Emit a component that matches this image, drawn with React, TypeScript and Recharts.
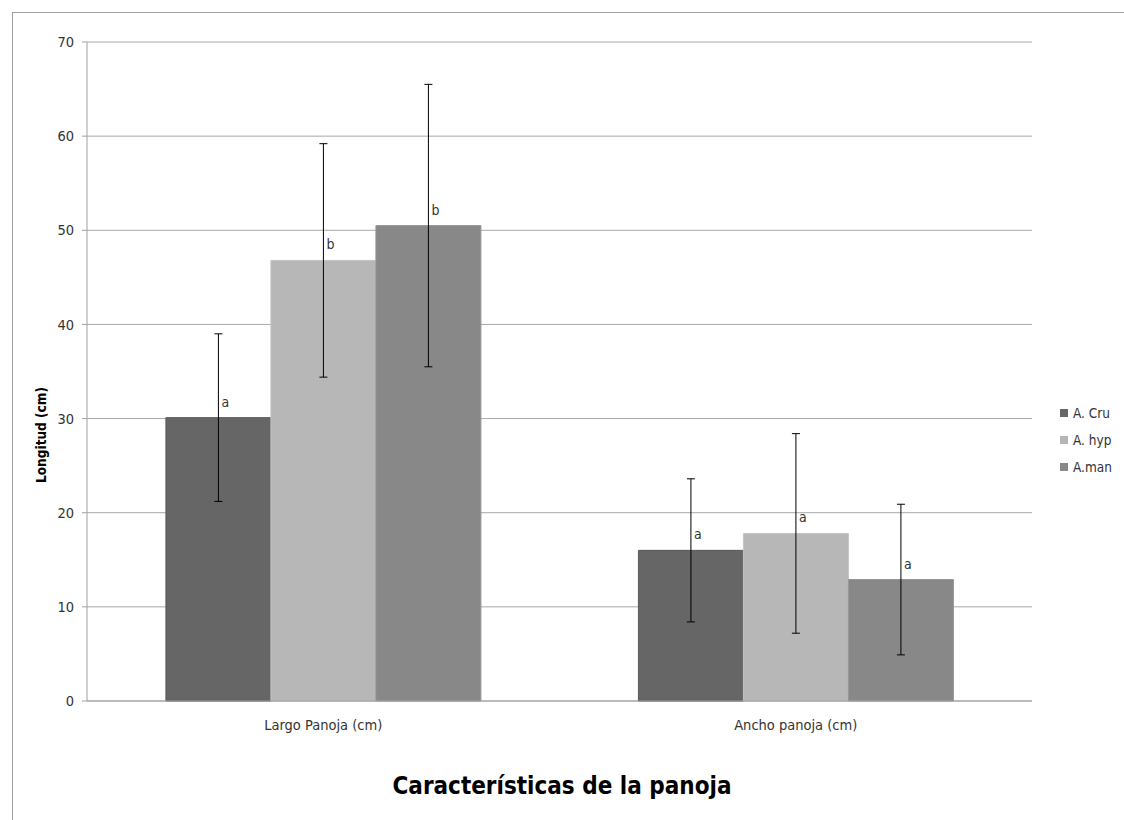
import { BarChart, Bar, XAxis, YAxis, CartesianGrid, ErrorBar, LabelList, Legend } from "recharts"

// --- data ---
const categories = ["Largo Panoja (cm)", "Ancho panoja (cm)"]
const seriesNames = ["A. Cru", "A. hyp", "A.man"]
const seriesColors = ["#666666", "#b7b7b7", "#888888"]

const cruMean = [30.1, 16.0]
const cruErr = [8.9, 7.6]
const cruLetter = ["a", "a"]

const hypMean = [46.8, 17.8]
const hypErr = [12.4, 10.6]
const hypLetter = ["b", "a"]

const manMean = [50.5, 12.9]
const manErr = [15.0, 8.0]
const manLetter = ["b", "a"]

const yTicks = [0, 10, 20, 30, 40, 50, 60, 70]

const chartData = categories.map((c, i) => ({
  name: c,
  cru: cruMean[i], cruErr: cruErr[i], cruLetter: cruLetter[i],
  hyp: hypMean[i], hypErr: hypErr[i], hypLetter: hypLetter[i],
  man: manMean[i], manErr: manErr[i], manLetter: manLetter[i],
}))

const FONT = "'DejaVu Sans Condensed', 'Liberation Sans', sans-serif"

const LetterLabel = (props: any) => {
  const { x, y, width, value } = props
  return (
    <text x={x + width / 2 + 3} y={y - 11} fill="#333" fontSize={14} fontFamily={FONT}>
      {value}
    </text>
  )
}

const LegendContent = () => (
  <div style={{ fontFamily: FONT, fontSize: 13.5, color: "#333" }}>
    {seriesNames.map((n, i) => (
      <div key={n} style={{ display: "flex", alignItems: "center", height: 27 }}>
        <span style={{ display: "inline-block", width: 8, height: 8, background: seriesColors[i], marginRight: 5 }} />
        {n}
      </div>
    ))}
  </div>
)

export default function App() {
  return (
    <div style={{ position: "absolute", left: 0, top: 0, width: 1124, height: 820, overflow: "hidden", background: "#fff" }}>
      {/* outer chart border */}
      <div style={{
        position: "absolute", left: 12, top: 12, width: 1200, height: 900,
        borderLeft: "1px solid #a0a0a0", borderTop: "1px solid #a0a0a0"
      }} />

      <BarChart width={1124} height={820} data={chartData}
        margin={{ top: 42, right: 92, bottom: 89, left: 0 }}
        barCategoryGap="16.7%" barGap={0}>
        <CartesianGrid vertical={false} stroke="#a8a8a8" />
        <XAxis xAxisId="bounds" type="number" domain={[0, 2]} ticks={[0, 1, 2]}
          height={0} axisLine={false} tickLine={{ stroke: "#a0a0a0" }} tickSize={5}
          tickFormatter={() => ""} />
        <XAxis dataKey="name" height={30} axisLine={{ stroke: "#a0a0a0" }} tickLine={false}
          tick={{ fill: "#333", fontSize: 14.5, fontFamily: FONT }} tickMargin={13} />
        <YAxis width={87} domain={[0, 70]} ticks={yTicks} axisLine={{ stroke: "#a0a0a0" }}
          tickLine={{ stroke: "#a0a0a0" }} tickSize={5} tickMargin={8}
          tick={{ fill: "#333", fontSize: 14.5, fontFamily: FONT }} />
        <Legend layout="vertical" align="center" verticalAlign="middle"
          wrapperStyle={{ left: 1060, top: 399, width: "auto" }} content={<LegendContent />} />

        <Bar dataKey="cru" name={seriesNames[0]} fill={seriesColors[0]} stroke="#5a5a5a" strokeWidth={1} isAnimationActive={false}>
          <ErrorBar dataKey="cruErr" width={4} stroke="#000" strokeWidth={1} />
          <LabelList dataKey="cruLetter" content={<LetterLabel />} />
        </Bar>
        <Bar dataKey="hyp" name={seriesNames[1]} fill={seriesColors[1]} stroke="#c4c4c4" strokeWidth={1} isAnimationActive={false}>
          <ErrorBar dataKey="hypErr" width={4} stroke="#000" strokeWidth={1} />
          <LabelList dataKey="hypLetter" content={<LetterLabel />} />
        </Bar>
        <Bar dataKey="man" name={seriesNames[2]} fill={seriesColors[2]} stroke="#969696" strokeWidth={1} isAnimationActive={false}>
          <ErrorBar dataKey="manErr" width={4} stroke="#000" strokeWidth={1} />
          <LabelList dataKey="manLetter" content={<LetterLabel />} />
        </Bar>
      </BarChart>

      {/* Y axis title */}
      <div style={{
        position: "absolute", left: 41, top: 435, transform: "translate(-50%, -50%) rotate(-90deg)",
        fontFamily: FONT, fontSize: 13.5, fontWeight: 700, color: "#000", whiteSpace: "nowrap"
      }}>
        Longitud (cm)
      </div>

      {/* Chart title */}
      <div style={{
        position: "absolute", left: 0, width: 1124, top: 772, textAlign: "center",
        fontFamily: FONT, fontSize: 24, fontWeight: 700, color: "#000"
      }}>
        Características de la panoja
      </div>
    </div>
  )
}
